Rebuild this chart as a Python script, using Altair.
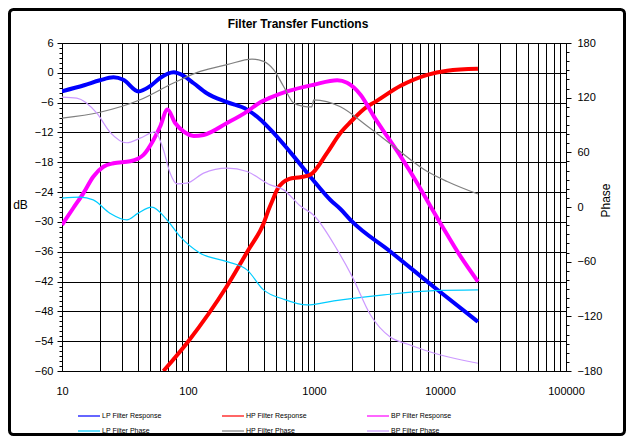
import altair as alt
import pandas as pd

# ---------------- data ----------------
lp_resp_freq = [10, 15, 20, 25.6, 30.7, 40.4, 50, 60, 77, 92, 111, 141, 204, 294, 375, 450, 650, 935, 1350, 1620, 2000, 4050, 8950, 20000]
lp_resp_db = [-3.7, -2.5, -1.5, -0.9, -1.4, -3.75, -2.7, -1.05, 0.1, -0.6, -2.1, -4.1, -5.9, -7.4, -9.4, -11.4, -16.0, -20.9, -25.6, -27.4, -29.9, -36.0, -43.1, -50.1]

hp_resp_freq = [63.8, 100, 204, 302, 398, 437, 475, 510, 630, 780, 935, 1270, 1620, 1950, 2640, 2990, 4870, 7930, 11400, 20000]
hp_resp_db = [-60, -54.1, -42.9, -35.6, -30.3, -27.5, -25.3, -23.5, -21.4, -21.0, -20.5, -16.1, -12.1, -9.9, -6.8, -6.0, -2.6, -0.4, 0.4, 0.8]

bp_resp_freq = [10, 12.3, 14.8, 17.7, 21.3, 25.6, 34.8, 44.3, 53.2, 60.1, 68.7, 79.1, 92.1, 111, 133, 204, 294, 375, 450, 611, 995, 1530, 1830, 2340, 2990, 3810, 4870, 6600, 8420, 10100, 14600, 20000]
bp_resp_db = [-30.6, -27.2, -24.2, -20.9, -18.9, -18.2, -17.8, -16.5, -13.5, -10.8, -7.4, -10.1, -11.8, -12.7, -12.5, -10.1, -7.8, -5.9, -5.0, -3.75, -2.4, -1.5, -2.0, -4.4, -8.8, -12.8, -16.8, -22.2, -26.9, -30.3, -37.0, -42.0]

lp_phase_freq = [10, 13.9, 17.7, 24, 32.7, 40, 51.6, 67.9, 86.7, 125, 204, 294, 398, 574, 881, 1440, 3580, 8950, 20000]
lp_phase_deg = [9.7, 10.8, 7.8, -6.8, -14.1, -7.0, -0.2, -14, -32.5, -50.7, -59.9, -69, -91, -101.2, -107.5, -103, -96.5, -91.8, -91]

hp_phase_freq = [10, 20, 41.7, 76.7, 125, 204, 322, 398, 478, 574, 690, 881, 960, 995, 1620, 2640, 4300, 7930, 11400, 20000]
hp_phase_deg = [97.6, 104, 117.7, 136.1, 148.8, 156.2, 162.4, 159.8, 150.7, 132.3, 114.1, 110, 110, 117.5, 110, 89, 66.4, 38.9, 28, 14.2]

bp_phase_freq = [10, 13.1, 18.9, 24.1, 32.7, 41.7, 54.8, 63.8, 72.2, 81.7, 98, 133, 204, 294, 450, 574, 780, 995, 1530, 2010, 2810, 4050, 5500, 10100, 20000]
bp_phase_deg = [120.7, 119.6, 103, 82, 70.5, 75.6, 82.5, 62.8, 37, 25.4, 26.2, 37.2, 42.7, 38.9, 24.3, 18.8, 1.0, -9.0, -47, -76.4, -118.5, -143, -150.3, -162.4, -171.5]

series_names = ["LP Filter Response", "HP Filter Response", "BP Filter Response",
                "LP Filter Phase", "HP Filter Phase", "BP Filter Phase"]
series_colors = ["#0000ff", "#ff0000", "#ff00ff", "#00ccff", "#808080", "#cc99ff"]

chart_title = "Filter Transfer  Functions"

db_ticks = list(range(-60, 7, 6))
db_minor = list(range(-60, 7, 1))
phase_ticks = list(range(-180, 181, 60))
phase_minor = list(range(-180, 181, 10))
x_grid = [m * 10 ** e for e in range(1, 5) for m in range(1, 10)] + [100000]

FONT = "Liberation Sans"


def frame(name, f, v):
    return pd.DataFrame({"freq": f, "value": v, "series": name})


x_enc = alt.X(
    "freq:Q",
    scale=alt.Scale(type="log", domain=[10, 100000], nice=False),
    axis=alt.Axis(
        values=x_grid, format="d", grid=True, gridColor="black", gridOpacity=1, gridWidth=1,
        labelExpr="indexof([10,100,1000,10000,100000], datum.value) >= 0 ? datum.label : ''",
        ticks=False, domain=False, labelPadding=14, labelFontSize=11, labelFont=FONT,
        labelColor="black", labelOverlap=False, labelFlush=False, title=None,
    ),
)

color_enc = alt.Color(
    "series:N",
    scale=alt.Scale(domain=series_names, range=series_colors),
    legend=alt.Legend(
        title=None, orient="none", legendX=21, legendY=367, columns=3, direction="horizontal",
        symbolType="M-2.2,0L2.2,0", symbolSize=100, symbolStrokeWidth=1.2, labelFontSize=7,
        labelFont=FONT, labelColor="black", labelOffset=7, columnPadding=57, rowPadding=6,
        padding=0,
    ),
)

db_scale = alt.Scale(domain=[-60, 6], nice=False, zero=False)
ph_scale = alt.Scale(domain=[-180, 180], nice=False, zero=False)

db_axis = alt.Axis(
    orient="left", values=db_ticks, grid=True, gridColor="black", gridOpacity=1, gridWidth=1,
    tickSize=5, tickColor="black", domainColor="black", labelFontSize=11, labelFont=FONT,
    labelColor="black", labelPadding=4, title="dB", titleAngle=0, titleX=-42, titleY=161,
    titleFontSize=12, titleFontWeight="normal", titleFont=FONT, titleColor="black",
    titleAlign="center", titleBaseline="middle",
)
ph_axis = alt.Axis(
    orient="right", values=phase_ticks, grid=False, tickSize=5, tickColor="black",
    domainColor="black", labelFontSize=11, labelFont=FONT, labelColor="black", labelPadding=6,
    title="Phase", titleAngle=270, titleX=39, titleY=157, titleFontSize=12,
    titleFontWeight="normal", titleFont=FONT, titleColor="black", titleAlign="center",
    titleBaseline="middle",
)


def line_layer(df, width, scale, axis):
    return alt.Chart(df).mark_line(strokeWidth=width, interpolate="monotone", clip=True).encode(
        x=x_enc,
        y=alt.Y("value:Q", scale=scale, axis=axis),
        color=color_enc,
    )


lp_r = frame(series_names[0], lp_resp_freq, lp_resp_db)
hp_r = frame(series_names[1], hp_resp_freq, hp_resp_db)
bp_r = frame(series_names[2], bp_resp_freq, bp_resp_db)
lp_p = frame(series_names[3], lp_phase_freq, lp_phase_deg)
hp_p = frame(series_names[4], hp_phase_freq, hp_phase_deg)
bp_p = frame(series_names[5], bp_phase_freq, bp_phase_deg)

# empty layer that only sets the legend line style
legend_key = alt.Chart(lp_r.iloc[0:0]).mark_line(strokeWidth=1.2, clip=True).encode(
    x=x_enc, y=alt.Y("value:Q", scale=db_scale, axis=None), color=color_enc
)

minor_db = alt.Chart(lp_r).mark_line(strokeOpacity=0).encode(
    x=x_enc,
    y=alt.Y("value:Q", scale=db_scale, axis=alt.Axis(
        orient="left", values=db_minor, labels=False, grid=False, domain=False,
        tickSize=3, tickColor="black", title=None)),
)
minor_ph = alt.Chart(lp_p).mark_line(strokeOpacity=0).encode(
    x=x_enc,
    y=alt.Y("value:Q", scale=ph_scale, axis=alt.Axis(
        orient="right", values=phase_minor, labels=False, grid=False, domain=False,
        tickSize=3, tickColor="black", title=None)),
)

border = alt.Chart(pd.DataFrame({"k": [0]})).mark_rect(
    filled=False, stroke="black", strokeWidth=3, cornerRadius=4, clip=False
).encode(x=alt.value(-52.5), x2=alt.value(562.5), y=alt.value(-33.5), y2=alt.value(391.5))

title_mark = alt.Chart(pd.DataFrame({"t": [chart_title]})).mark_text(
    fontSize=12, fontWeight="bold", font=FONT, color="black", align="center",
    baseline="alphabetic", clip=False,
).encode(text="t:N", x=alt.value(236), y=alt.value(-15))

chart = alt.layer(
    border,
    title_mark,
    legend_key,
    line_layer(lp_r, 4, db_scale, db_axis),
    line_layer(hp_r, 4, db_scale, None),
    line_layer(bp_r, 4, db_scale, None),
    line_layer(lp_p, 1.2, ph_scale, ph_axis),
    line_layer(hp_p, 1.2, ph_scale, None),
    line_layer(bp_p, 1.2, ph_scale, None),
    minor_db,
    minor_ph,
).resolve_scale(y="independent").properties(
    width=504,
    height=328,
    autosize=alt.AutoSizeParams(type="none"),
    padding={"left": 54, "top": 35, "right": 60, "bottom": 65},
).configure_view(stroke="black", strokeWidth=1).configure(background="white")

chart.save("out.html", embed_options={"renderer": "svg", "actions": False})
